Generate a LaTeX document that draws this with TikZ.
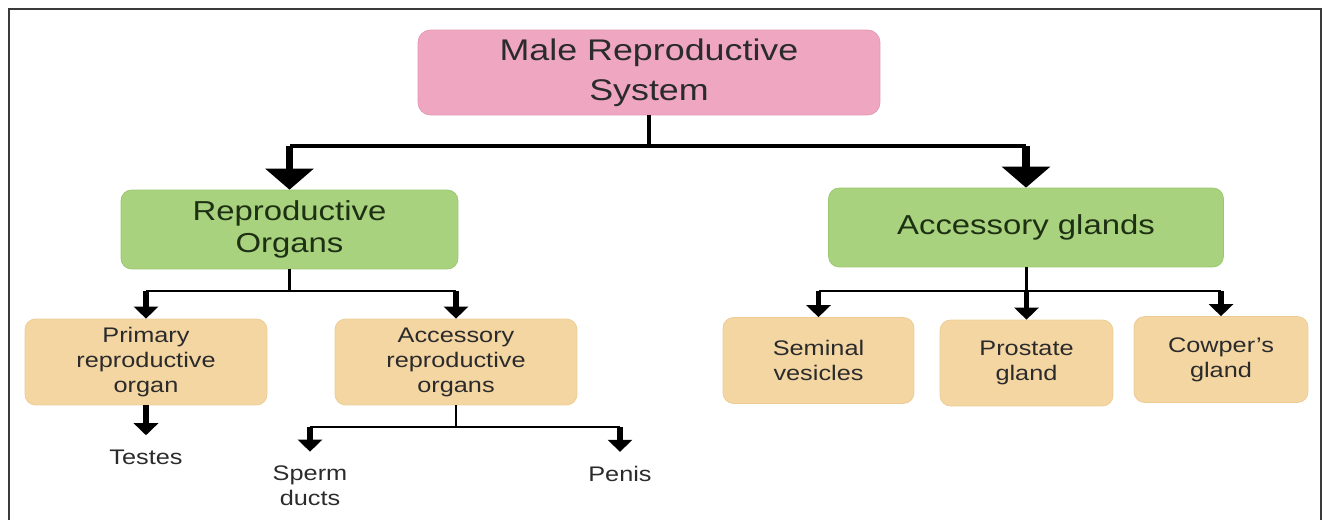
\documentclass[tikz,border=0pt]{standalone}
\usepackage{fontspec}
\setmainfont{Liberation Sans}[FakeStretch=1.2]
\usetikzlibrary{arrows.meta,positioning}
\definecolor{Pink}{HTML}{EFA7C1}
\definecolor{PinkLine}{HTML}{E496B3}
\definecolor{Leaf}{HTML}{A8D27D}
\definecolor{LeafLine}{HTML}{9AC76E}
\definecolor{Sand}{HTML}{F4D6A3}
\definecolor{SandLine}{HTML}{EBCB93}
\definecolor{Ink}{HTML}{2B2B2B}
\definecolor{LeafInk}{HTML}{1E3014}
\definecolor{Rim}{HTML}{3A3A3A}
\tikzset{
  rootbox/.style={
    rounded corners=7pt, draw=PinkLine, fill=Pink, text=Ink,
    minimum width=9.24cm, minimum height=1.7cm, align=center,
    font=\fontsize{17}{22.7}\selectfont
  },
  groupbox/.style={
    rounded corners=6pt, draw=LeafLine, fill=Leaf, text=LeafInk,
    minimum height=1.58cm, align=center,
    font=\fontsize{15.6}{18.1}\selectfont
  },
  partbox/.style={
    rounded corners=6pt, draw=SandLine, fill=Sand, text=Ink,
    minimum height=1.72cm, align=center,
    font=\fontsize{12}{14.2}\selectfont
  },
  leafname/.style={
    inner sep=8pt, text=Ink, align=center,
    font=\fontsize{12}{14.2}\selectfont
  },
  bar/.style={line width=2.3pt, draw=black},
  thinbar/.style={line width=1.7pt, draw=black},
  bigdrop/.style={-{Triangle[length=0.42cm,width=0.95cm]}, line width=4.5pt, draw=black},
  drop/.style={-{Triangle[length=0.24cm,width=0.48cm]}, line width=3.4pt, draw=black}
}
\begin{document}
\begin{tikzpicture}[x=0.02cm,y=-0.02cm]
    \useasboundingbox (0,0) rectangle (1322,520);
    \draw[Rim,line width=1.2pt] (9,520) |- (1321,9) -- (1321,520);
    % boxes
    \node[rootbox] (root) at (649,72.5) {Male Reproductive\\System};
    \node[groupbox,minimum width=6.74cm] (repro) at (289.5,229.5) {Reproductive\\Organs};
    \node[groupbox,minimum width=7.9cm] (accgl) at (1026,227.5) {Accessory glands};
    \node[partbox,minimum width=4.84cm] (prim) at (146,362) {Primary\\reproductive\\organ};
    \node[partbox,minimum width=4.84cm] (accrep) at (456,362) {Accessory\\reproductive\\organs};
    \node[partbox,minimum width=3.82cm] (semi) at (818.5,360.5) {Seminal\\vesicles};
    \node[partbox,minimum width=3.46cm] (pros) at (1026.5,363) {Prostate\\gland};
    \node[partbox,minimum width=3.48cm] (cowp) at (1221,359.5) {Cowper's\\gland};
    \node[leafname] (testes) at (146,457) {Testes};
    \node[leafname] (sperm) at (310,486) {Sperm\\ducts};
    \node[leafname] (penis) at (620,474) {Penis};
    % split rows
    \coordinate (row1) at (0,146);
    \coordinate (row2) at (0,291);
    \coordinate (row3) at (0,427);
    % connectors
    \draw[bar] (root.south) -- (root.south |- row1);
    \draw[bar] (repro.north |- row1) -- (accgl.north |- row1);
    \draw[bigdrop] (repro.north |- row1) -- (repro.north);
    \draw[bigdrop] (accgl.north |- row1) -- (accgl.north);
    \draw[thinbar] (repro.south) -- (repro.south |- row2);
    \draw[thinbar] (prim.north |- row2) -- (accrep.north |- row2);
    \draw[drop] (prim.north |- row2) -- (prim.north);
    \draw[drop] (accrep.north |- row2) -- (accrep.north);
    \draw[drop] (prim.south) -- (testes.north);
    \draw[thinbar] (accrep.south) -- (accrep.south |- row3);
    \draw[thinbar] (sperm.north |- row3) -- (penis.north |- row3);
    \draw[drop] (sperm.north |- row3) -- (sperm.north);
    \draw[drop] (penis.north |- row3) -- (penis.north);
    \draw[thinbar] (accgl.south) -- (accgl.south |- row2);
    \draw[thinbar] (semi.north |- row2) -- (cowp.north |- row2);
    \draw[drop] (semi.north |- row2) -- (semi.north);
    \draw[drop] (pros.north |- row2) -- (pros.north);
    \draw[drop] (cowp.north |- row2) -- (cowp.north);
\end{tikzpicture}
\end{document}
